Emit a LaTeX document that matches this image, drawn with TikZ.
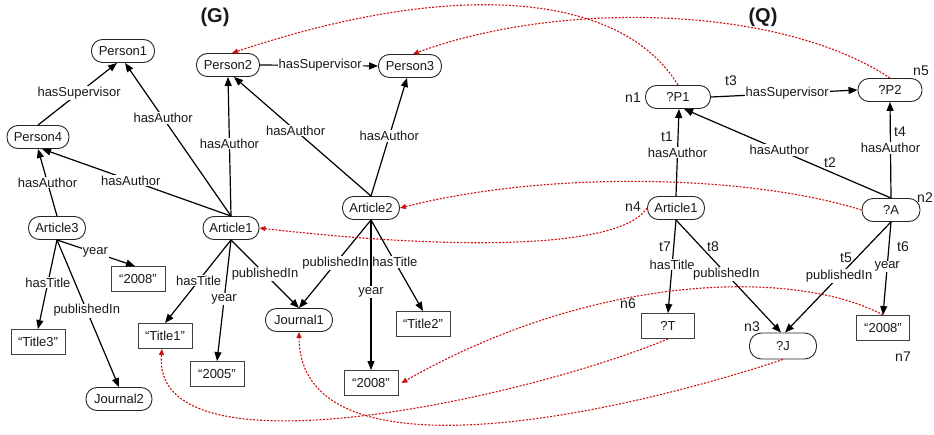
\documentclass[tikz,border=0pt]{standalone}
\usepackage{fontspec}
\setmainfont{Liberation Sans}
\usetikzlibrary{arrows.meta}
\definecolor{redd}{HTML}{CC1111}
\begin{document}
\begin{tikzpicture}[x=1pt,y=-1pt,
  every node/.style={font=\fontsize{13}{15}\selectfont, text=black!90},
  res/.style={draw=black!85, line width=0.9pt, fill=white, rounded corners=11pt, minimum height=23pt, inner xsep=5pt, inner ysep=2pt},
  lit/.style={draw=black!75, line width=0.9pt, fill=white, minimum width=54pt, minimum height=25pt, inner sep=2pt},
  edge/.style={line width=1.2pt, -{Triangle[length=9pt,width=7pt]}},
  lab/.style={fill=white, inner sep=1pt},
  match/.style={draw=redd, line width=1.1pt, dash pattern=on 2pt off 1.5pt, -{Triangle[length=6pt,width=5pt]}},
  tag/.style={font=\fontsize{14}{16}\selectfont},
  ttl/.style={font=\fontsize{20}{22}\selectfont\bfseries}
]
\useasboundingbox (0,0) rectangle (934,434);

% titles
\node[ttl] (gtitle) at (215,17) {(G)};
\node[ttl] (qtitle) at (763,17) {(Q)};

% ---------- G ----------
\node[res, minimum width=63pt] (p1) at (123,51) {Person1};
\node[res, minimum width=63pt] (p2) at (228,65) {Person2};
\node[res, minimum width=63pt] (p3) at (410,66) {Person3};
\node[res, minimum width=62pt] (p4) at (38,137) {Person4};
\node[res, minimum width=57pt] (a3) at (57,228) {Article3};
\node[res, minimum width=56pt] (a1) at (231,228) {Article1};
\node[res, minimum width=57pt] (a2) at (371,208) {Article2};
\node[lit] (y3) at (138,279) {“2008”};
\node[lit] (t3) at (38,342) {“Title3”};
\node[res, minimum width=66pt] (j2) at (119,399) {Journal2};
\node[lit] (t1) at (165,336) {“Title1”};
\node[lit] (y1) at (217,374) {“2005”};
\node[res, minimum width=67pt] (j1) at (299,320) {Journal1};
\node[lit] (t2) at (423,324) {“Title2”};
\node[lit] (y2) at (371,383) {“2008”};

\draw[edge] (p4.north) -- node[lab,pos=.52]{hasSupervisor} ([xshift=-6pt]p1.south);
\draw[edge] (a1.north) -- node[lab,pos=.64]{hasAuthor} ([xshift=2pt]p1.south);
\draw[edge] (a1.north) -- node[lab,pos=.53]{hasAuthor} ([xshift=4pt]p4.south);
\draw[edge] (a3.north) -- node[lab,pos=.5]{hasAuthor} (p4.south);
\draw[edge] (a1.north) -- node[lab,pos=.52]{hasAuthor} (p2.south);
\draw[edge] (a2.north) -- node[lab,pos=.55]{hasAuthor} ([xshift=6pt]p2.south);
\draw[edge] (a2.north) -- node[lab,pos=.51]{hasAuthor} ([xshift=-3pt]p3.south);
\draw[edge] (p2.east) -- node[lab,pos=.51]{hasSupervisor} (p3.west);
\draw[edge] (a3.south) -- node[lab,pos=.49]{year} ([xshift=-3pt]y3.north);
\draw[edge] (a3.south) -- node[lab,pos=.48]{hasTitle} (t3.north);
\draw[edge] (a3.south) -- node[lab,pos=.48]{publishedIn} (j2.north);
\draw[edge] (a1.south) -- node[lab,pos=.49]{hasTitle} (t1.north);
\draw[edge] (a1.south) -- node[lab,pos=.49]{year} (y1.north);
\draw[edge] (a1.south) -- node[lab,pos=.5]{publishedIn} (j1.north);
\draw[edge] (a2.south) -- node[lab,pos=.49]{publishedIn} (j1.north);
\draw[edge] (a2.south) -- node[lab,pos=.46]{hasTitle} (t2.north);
\draw[edge] (a2.south) -- node[lab,pos=.48]{year} (y2.north);

% ---------- Q ----------
\node[res, minimum width=65pt] (qp1) at (678,97) {?P1};
\node[res, minimum width=64pt] (qp2) at (890,90) {?P2};
\node[res, minimum width=57pt] (qa1) at (676,208) {Article1};
\node[res, minimum width=58pt] (qa) at (891,210) {?A};
\node[lit, minimum width=53pt] (qt) at (668,326) {?T};
\node[res, minimum width=67pt, minimum height=26pt, rounded corners=12pt] (qj) at (783,346) {?J};
\node[lit, minimum width=53pt] (qy) at (883,328) {“2008”};

\draw[edge] (qp1.east) -- node[lab,pos=.52]{hasSupervisor} (qp2.west);
\draw[edge] (qa1.north) -- node[lab,pos=.5]{hasAuthor} ([xshift=1pt]qp1.south);
\draw[edge] (qa.north) -- node[lab,pos=.54]{hasAuthor} ([xshift=6pt]qp1.south);
\draw[edge] (qa.north) -- node[lab,pos=.52]{hasAuthor} (qp2.south);
\draw[edge] (qa1.south) -- node[lab,pos=.48]{hasTitle} (qt.north);
\draw[edge] (qa1.south) -- node[lab,pos=.48]{publishedIn} ([xshift=-2pt]qj.north);
\draw[edge] (qa.south) -- node[lab,pos=.49]{publishedIn} ([xshift=2pt]qj.north);
\draw[edge] (qa.south) -- node[lab,pos=.48]{year} (qy.north);

% tags
\node[tag] (n1) at (633,98) {n1};
\node[tag] (n5) at (921,71) {n5};
\node[tag] (n2) at (925,198) {n2};
\node[tag] (n4) at (633,207) {n4};
\node[tag] (n6) at (628,304) {n6};
\node[tag] (n3) at (752,327) {n3};
\node[tag] (n7) at (903,357) {n7};
\node[tag] (tt3) at (731,81) {t3};
\node[tag] (tt1) at (667,137) {t1};
\node[tag] (tt2) at (830,163) {t2};
\node[tag] (tt4) at (900,132) {t4};
\node[tag] (tt7) at (665,247) {t7};
\node[tag] (tt8) at (713,247) {t8};
\node[tag] (tt5) at (846,258) {t5};
\node[tag] (tt6) at (903,247) {t6};

% ---------- matches ----------
\draw[match] (qp1.north) .. controls (620,-10) and (450,-20) .. ([xshift=4pt]p2.north);
\draw[match] (qp2.north) .. controls (780,5) and (560,0) .. ([xshift=3pt]p3.north);
\draw[match] (qa.west) .. controls (750,175) and (550,170) .. (a2.east);
\draw[match] (qa1.west) .. controls (620,250) and (450,250) .. (a1.east);
\draw[match] (qy.north) .. controls (800,270) and (600,270) .. ([xshift=3pt]y2.east);
\draw[match] (qt.south) .. controls (520,400) and (150,480) .. ([xshift=-3pt]t1.south);
\draw[match] (qj.south) .. controls (600,420) and (300,480) .. (j1.south);
\end{tikzpicture}
\end{document}
